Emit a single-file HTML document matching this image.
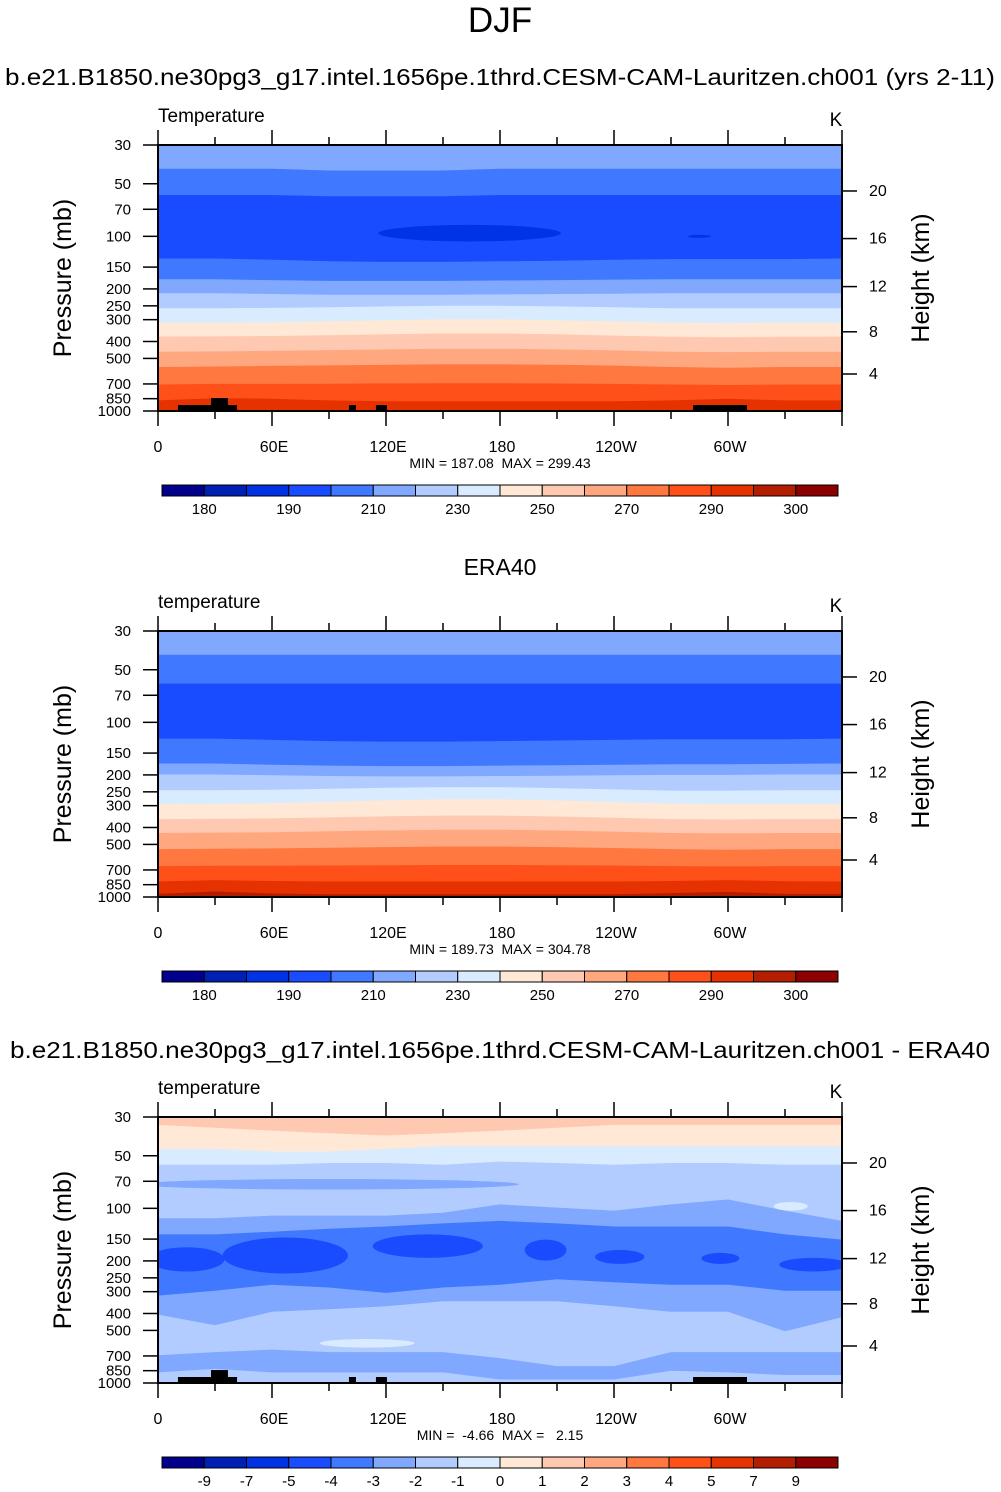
<!DOCTYPE html>
<html><head><meta charset="utf-8"><style>
body{margin:0;background:#fff;}
svg{display:block;font-family:"Liberation Sans",sans-serif;}
</style></head><body>
<svg id="fig" width="1001" height="1492" viewBox="0 0 1001 1492" xmlns="http://www.w3.org/2000/svg">
<text x="500" y="32" font-size="35" text-anchor="middle">DJF</text>
<text x="5" y="85" font-size="23" textLength="990" lengthAdjust="spacingAndGlyphs">b.e21.B1850.ne30pg3_g17.intel.1656pe.1thrd.CESM-CAM-Lauritzen.ch001 (yrs 2-11)</text>
<text x="500" y="575" font-size="23" text-anchor="middle">ERA40</text>
<text x="10" y="1058" font-size="23" textLength="980" lengthAdjust="spacingAndGlyphs">b.e21.B1850.ne30pg3_g17.intel.1656pe.1thrd.CESM-CAM-Lauritzen.ch001 - ERA40</text>
</svg>
<script>
const colors=["#00008c","#0020b4","#0032e6","#1a4cff","#4078ff","#80a8ff","#b2ccff","#d8ebff","#ffe8d6","#ffc8b0","#ffa880","#ff7840","#ff501a","#e63200","#b41e00","#8c0000"];
const lonGrid=[0,30,60,90,120,150,180,210,240,270,300,330,360];
const pTicks=[30,50,70,100,150,200,250,300,400,500,700,850,1000];
const hTicks=[20,16,12,8,4];
const hTickPressure=[55,103,194,352,614];
const xTickLabels=["0","60E","120E","180","120W","60W"];
const tempBarLabels=["180","","190","","210","","230","","250","","270","","290","","300"];
const diffBarLabels=["-9","-7","-5","-4","-3","-2","-1","0","1","2","3","4","5","7","9"];
const p1Base=5;
const p1Layers=[
 {c:4,p:[41,41,41,42,42,42,41,41,41,41,41,41,41]},
 {c:3,p:[58,58,58,59,59,59,58,58,58,58,58,58,58]},
 {c:4,p:[134,134,136,139,140,140,139,138,136,135,135,135,134]},
 {c:5,p:[176,176,178,180,180,180,179,178,177,176,176,176,176]},
 {c:6,p:[212,212,214,216,216,216,215,214,213,212,212,212,212]},
 {c:7,p:[258,258,257,255,252,250,250,252,255,258,258,258,258]},
 {c:8,p:[312,312,310,306,302,298,298,302,306,312,314,312,312]},
 {c:9,p:[375,374,372,368,364,360,360,364,370,376,378,376,375]},
 {c:10,p:[458,456,453,448,444,440,440,444,450,458,460,458,458]},
 {c:11,p:[560,556,552,548,544,540,540,544,550,560,565,560,560]},
 {c:12,p:[705,700,700,698,695,693,693,696,700,705,710,705,705]},
 {c:13,p:[870,845,850,870,880,880,880,880,880,870,850,870,870]}
];
const p1Blobs=[{c:2,lon:164,dlon:48,pt:86,pb:107},{c:2,lon:285,dlon:6,pt:98,pb:102}];
const p2Base=5;
const p2Layers=[
 {c:4,p:[41,41,41,41,41,41,41,41,41,41,41,41,41]},
 {c:3,p:[60,60,60,60,60,60,60,60,60,60,60,60,60]},
 {c:4,p:[124,124,126,128,129,129,128,127,126,125,125,125,124]},
 {c:5,p:[172,172,175,177,178,178,177,176,175,174,174,173,172]},
 {c:6,p:[199,199,201,203,204,204,203,202,201,200,200,199,199]},
 {c:7,p:[245,245,243,240,237,235,235,238,242,246,246,245,245]},
 {c:8,p:[294,293,290,285,280,276,276,280,286,292,294,294,294]},
 {c:9,p:[358,357,355,350,345,342,342,346,352,358,360,358,358]},
 {c:10,p:[430,428,426,420,416,412,412,416,422,430,432,430,430]},
 {c:11,p:[532,530,527,522,518,514,514,518,524,532,536,532,532]},
 {c:12,p:[665,662,661,660,658,656,656,658,660,665,668,665,665]},
 {c:13,p:[815,800,810,815,815,815,815,815,815,810,800,812,815]},
 {c:14,p:[960,930,955,965,965,965,965,965,965,950,935,960,960]}
];
const p2Blobs=[];
const p3Base=9;
const p3Layers=[
 {c:8,p:[33.3,34.6,35.9,37.2,38.3,37.2,35.9,34.6,33.3,33.3,33.3,33.3,33.3]},
 {c:7,p:[45.7,45.7,47.3,47.3,45.7,44,44,44,44,44,44,44,44]},
 {c:6,p:[56.3,56.3,56.3,55,55,56.3,54,55,56.3,55,55,56.3,56.3]},
 {c:5,p:[114,114,110,110,110,106,95,99,103,95,89,103,118]},
 {c:4,p:[141,141,136,131,127,122,118,122,127,127,127,141,151]},
 {c:5,p:[316,296,274,284,305,284,274,255,265,274,274,296,296]},
 {c:6,p:[406,467,391,378,364,340,340,340,364,391,391,505,420]},
 {c:5,p:[693,665,644,665,665,665,720,800,800,665,665,665,665]},
 {c:6,p:[870,830,870,870,870,870,955,955,955,850,870,900,900]}
];
const p3Blobs=[
 {c:5,lon:90,dlon:100,pt:68,pb:78},
 {c:3,lon:67,dlon:33,pt:147,pb:236},
 {c:3,lon:15,dlon:20,pt:167,pb:230},
 {c:3,lon:142,dlon:29,pt:141,pb:192},
 {c:3,lon:204,dlon:11,pt:151,pb:199},
 {c:3,lon:243,dlon:13,pt:173,pb:208},
 {c:3,lon:296,dlon:10,pt:180,pb:208},
 {c:3,lon:345,dlon:18,pt:192,pb:230},
 {c:7,lon:110,dlon:25,pt:560,pb:627},
 {c:7,lon:333,dlon:9,pt:92,pb:103}
];
const terrainLon0=[10.5,27.9,100.5,114.7,281.6];
const terrainLon1=[41.6,36.8,104.2,120.5,310];
const terrainTop=[924,843,924,924,924];

const NS="http://www.w3.org/2000/svg";
const svg=document.getElementById('fig');
function mk(tag,attrs,parent,txt){const e=document.createElementNS(NS,tag);for(const k in attrs)e.setAttribute(k,attrs[k]);if(txt!==undefined)e.textContent=txt;(parent||svg).appendChild(e);return e;}
const X0=158,X1=842,H=266;
function xs(lon){return X0+lon*(X1-X0)/360;}
function ysFn(oy){return p=>oy+145+Math.log(p/30)/Math.log(1000/30)*H;}

function drawPanel(oy,base,layers,blobs,terrain,varName,minmax,idx){
  const ys=ysFn(oy);
  const g=mk('g',{});
  
  
  const cp=mk('clipPath',{id:'clip'+idx},g);
  mk('rect',{x:X0,y:oy+145,width:X1-X0,height:H},cp);
  const fg=mk('g',{'clip-path':'url(#clip'+idx+')'},g);
  const bg=mk('rect',{x:X0,y:oy+145,width:X1-X0,height:H,fill:colors[base]},fg);
  
  
  layers.forEach(L=>{
    let d='M'+xs(0)+','+(oy+420);
    lonGrid.forEach((lon,i)=>{d+=' L'+xs(lon).toFixed(1)+','+ys(L.p[i]).toFixed(1);});
    d+=' L'+xs(360)+','+(oy+420)+' Z';
    const e=mk('path',{d:d,fill:colors[L.c]},fg);
    
    
  });
  blobs.forEach(b=>{
    const e=mk('ellipse',{cx:xs(b.lon),cy:(ys(b.pt)+ys(b.pb))/2,rx:b.dlon*(X1-X0)/360,ry:(ys(b.pb)-ys(b.pt))/2,fill:colors[b.c]},fg);
    
    
  });
  if(terrain){terrainLon0.forEach((l0,i)=>{
    const e=mk('rect',{x:xs(l0),y:ys(terrainTop[i]),width:xs(terrainLon1[i])-xs(l0),height:oy+411-ys(terrainTop[i]),fill:'#000'},fg);
    
    
  });}
  const fr=mk('rect',{x:X0,y:oy+145,width:X1-X0,height:H,fill:'none',stroke:'#000','stroke-width':2},g);
  
  
  for(let lon=0;lon<=360;lon+=30){
    const maj=lon%60===0, len=maj?15:8, x=xs(lon);
    mk('line',{x1:x,x2:x,y1:oy+145,y2:oy+145-len,stroke:'#000','stroke-width':1.5},g);
    mk('line',{x1:x,x2:x,y1:oy+411,y2:oy+411+len,stroke:'#000','stroke-width':1.5},g);
  }
  xTickLabels.forEach((t,i)=>{
    const e=mk('text',{x:xs(i*60)+(i===0?0:2),y:oy+452,'font-size':16,'text-anchor':'middle'},g,t);
    
    
  });
  pTicks.forEach(p=>{
    const y=ys(p);
    mk('line',{x1:X0,x2:X0-15,y1:y,y2:y,stroke:'#000','stroke-width':1.5},g);
    const e=mk('text',{x:131,y:y+5,'font-size':15,'text-anchor':'end'},g,String(p));
    
    
  });
  hTicks.forEach((h,i)=>{
    const y=ys(hTickPressure[i]);
    mk('line',{x1:X1,x2:X1+15,y1:y,y2:y,stroke:'#000','stroke-width':1.5},g);
    const e=mk('text',{x:869,y:y+5,'font-size':16},g,String(h));
    
    
  });
  let e=mk('text',{x:0,y:0,'font-size':25,'text-anchor':'middle',transform:'translate(71,'+(oy+278)+') rotate(-90)'},g,'Pressure (mb)');
  
  e=mk('text',{x:0,y:0,'font-size':25,'text-anchor':'middle',transform:'translate(929,'+(oy+278)+') rotate(-90)'},g,'Height (km)');
  
  e=mk('text',{x:158,y:oy+122,'font-size':19},g,varName);
  
  e=mk('text',{x:836,y:oy+126,'font-size':19,'text-anchor':'middle'},g,'K');
  
  e=mk('text',{x:500,y:oy+468,'font-size':14,'text-anchor':'middle',style:'white-space:pre'},g,minmax);
  
}
function drawBar(oy,labels,idx){
  const g=mk('g',{});
  
  
  const w=(838-162)/16;
  colors.forEach((c,i)=>{
    const r=mk('rect',{x:162+i*w,y:oy+485,width:w,height:11,fill:c,stroke:'#000','stroke-width':1},g);
    
    
  });
  labels.forEach((t,i)=>{
    if(!t)return;
    const e=mk('text',{x:162+(i+1)*w,y:oy+514,'font-size':15,'text-anchor':'middle'},g,t);
    
    
  });
}
drawPanel(0,p1Base,p1Layers,p1Blobs,true,'Temperature','MIN = 187.08  MAX = 299.43',1);
drawBar(0,tempBarLabels,1);
drawPanel(486,p2Base,p2Layers,p2Blobs,false,'temperature','MIN = 189.73  MAX = 304.78',2);
drawBar(486,tempBarLabels,2);
drawPanel(972,p3Base,p3Layers,p3Blobs,true,'temperature','MIN =  -4.66  MAX =   2.15',3);
drawBar(972,diffBarLabels,3);
</script>
</body></html>
